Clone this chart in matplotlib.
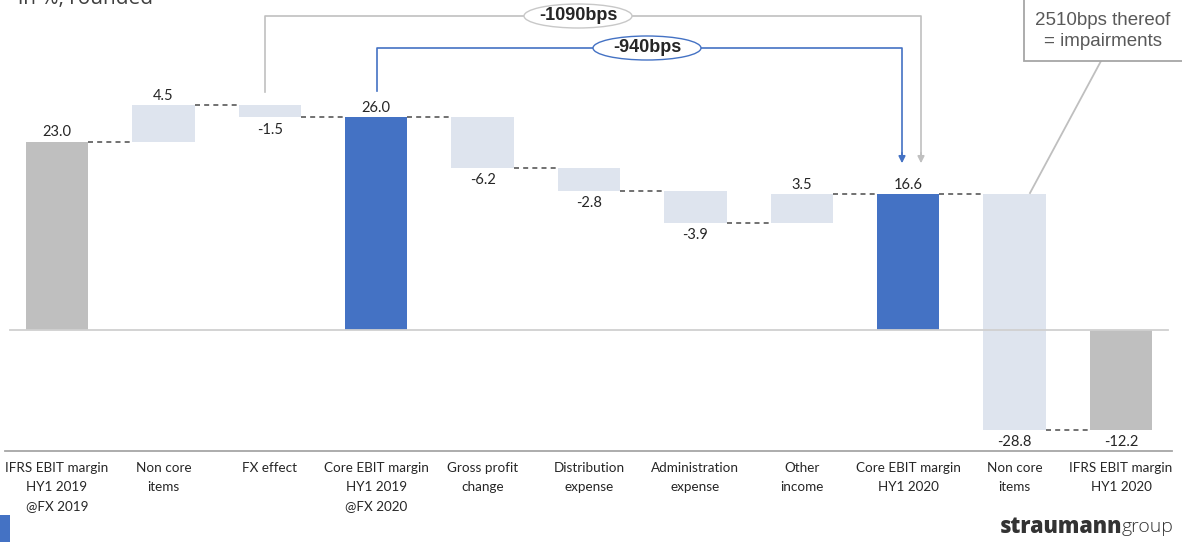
import matplotlib.pyplot as plt
from matplotlib.patches import Ellipse, Rectangle

# waterfall steps, in % of sales
categories = ["IFRS EBIT margin\nHY1 2019\n@FX 2019", "Non core\nitems", "FX effect",
              "Core EBIT margin\nHY1 2019\n@FX 2020", "Gross profit\nchange", "Distribution\nexpense",
              "Administration\nexpense", "Other\nincome", "Core EBIT margin\nHY1 2020", "Non core\nitems",
              "IFRS EBIT margin\nHY1 2020"]
values = [23.0, 4.5, -1.5, 26.0, -6.2, -2.8, -3.9, 3.5, 16.6, -28.8, -12.2]
kinds = ["ifrs", "delta", "delta", "core", "delta", "delta", "delta", "delta", "core", "delta", "ifrs"]

colors = {"ifrs": "#BFBFBF", "core": "#4472C4", "delta": "#DEE4EE"}
label_font = ["Lato", "DejaVu Sans"]
narrow_font = ["Liberation Sans Narrow", "Liberation Sans", "DejaVu Sans"]

W, H = 1182, 542
fig = plt.figure(figsize=(W / 100, H / 100), dpi=100)
ax = fig.add_axes([0, 0, 1, 1])
step = 106.4
x0 = 57
ppu = 8.18
zero_px = 330
ax.set_xlim(-x0 / step, (W - x0) / step)
ax.set_ylim(-(H - zero_px) / ppu, zero_px / ppu)
ax.axis("off")

def px(x):
    return (x - x0) / step

def py(y):
    return (zero_px - y) / ppu

bar_w = 0.585
level = 0.0
ends = []
for i, (v, k) in enumerate(zip(values, kinds)):
    if k == "delta":
        bottom, top = level, level + v
        level = top
    else:
        bottom, top = 0, v
        level = v
    ends.append(level)
    lo, hi = min(bottom, top), max(bottom, top)
    ax.bar(i, hi - lo, bottom=lo, width=bar_w, color=colors[k], edgecolor="none", zorder=2)
    if v < 0:
        ax.text(i, lo - 1.5, f"{v:.1f}", ha="center", va="center", fontsize=10.5,
                family=label_font, color="#262626")
    else:
        ax.text(i, hi + 1.15, f"{v:.1f}", ha="center", va="center", fontsize=10.5,
                family=label_font, color="#262626")

# dashed connectors between neighbouring bars
for i in range(len(values) - 1):
    ax.plot([i + bar_w / 2, i + 1 - bar_w / 2], [ends[i], ends[i]], ls=(0, (3, 2.5)),
            color="#595959", lw=1.2, zorder=1)

# zero line and category axis line
ax.plot([px(10), px(1168)], [0, 0], color="#D0D0D0", lw=1.3, zorder=3)
ax.plot([px(5), px(1172)], [py(451), py(451)], color="#A6A6A6", lw=1.3)

for i, c in enumerate(categories):
    ax.text(i, py(462.5), c, ha="center", va="top", fontsize=9.7, family=label_font,
            color="#262626", linespacing=1.66)

# bps brackets
gray = "#C0C0C0"
blue = "#4472C4"
ax.plot([px(265), px(265), px(921), px(921)], [py(92), py(16), py(16), py(158)], color=gray, lw=1.2)
ax.annotate("", xy=(px(921), py(166)), xytext=(px(921), py(150)),
            arrowprops=dict(arrowstyle="-|>", color=gray, lw=1.2, mutation_scale=10))
ax.plot([px(377), px(377), px(902), px(902)], [py(91), py(48), py(48), py(158)], color=blue, lw=1.2)
ax.annotate("", xy=(px(902), py(166)), xytext=(px(902), py(150)),
            arrowprops=dict(arrowstyle="-|>", color=blue, lw=1.2, mutation_scale=10))

for cx, cy, txt, ec in [(578, 16, "-1090bps", "#C8C8C8"), (647, 48, "-940bps", blue)]:
    ax.add_patch(Ellipse((px(cx), py(cy)), 108 / step, 24 / ppu, facecolor="white",
                         edgecolor=ec, lw=1.0, zorder=4))
    ax.text(px(cx), py(cy), txt, ha="center", va="center", fontsize=13, fontweight="bold",
            family=narrow_font, color="#262626", zorder=5)

# impairment call-out
ax.plot([px(1101), px(1030)], [py(61), py(193)], color="#BFBFBF", lw=1.3, zorder=3)
ax.add_patch(Rectangle((px(1024), py(61)), 170 / step, 62 / ppu, facecolor="white",
                       edgecolor="#A6A6A6", lw=1.3, zorder=4))
ax.text(px(1103), py(31), "2510bps thereof\n= impairments", ha="center", va="center",
        fontsize=13.5, family=narrow_font, color="#595959", linespacing=1.3, zorder=5)

# header, corner mark and logo
fig.text(18 / W, 1 - 4 / H, "in %, rounded", ha="left", va="baseline", fontsize=15,
         family=["Open Sans", "DejaVu Sans"], color="#404040")
fig.patches.append(Rectangle((0, 0), 10 / W, 27 / H, transform=fig.transFigure,
                             facecolor="#4472C4", edgecolor="none"))
fig.text(1122 / W, 1 - 527 / H, "straumann", ha="right", va="center", fontsize=15.5,
         fontweight="heavy", family=["Open Sans", "DejaVu Sans"], color="#333333")
fig.text(1122 / W, 1 - 527 / H, "group", ha="left", va="center", fontsize=14,
         fontweight="light", family=["Open Sans", "DejaVu Sans"], color="#333333")

fig.savefig("out.png", dpi=100)
